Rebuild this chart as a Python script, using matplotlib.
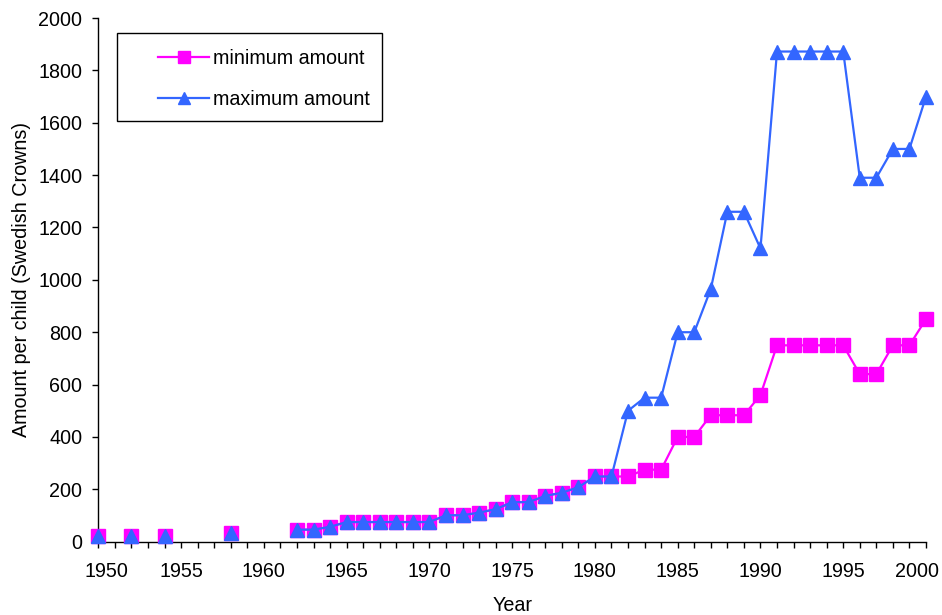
import numpy as np
import matplotlib
matplotlib.use("Agg")
import matplotlib.pyplot as plt
from matplotlib.ticker import MultipleLocator, FixedLocator
from matplotlib.transforms import ScaledTranslation
from matplotlib.patches import Rectangle

plt.rcParams['font.family'] = ['Liberation Sans', 'DejaVu Sans']

years = list(range(1950, 2001))
nan = np.nan
# minimum amount per child (SEK), NaN = no data
min_amount = [22, nan, 22, nan, 22, nan, nan, nan, 33, nan, nan, nan,
              46, 46, 57, 75, 75, 75, 75, 75, 75,
              101, 101, 111, 124, 151, 151, 175, 187, 208, 249,
              249, 249, 275, 275, 400, 400, 483, 483, 483, 560,
              750, 750, 750, 750, 750, 640, 640, 750, 750, 850]
max_amount = [22, nan, 22, nan, 22, nan, nan, nan, 33, nan, nan, nan,
              46, 46, 57, 75, 75, 75, 75, 75, 75,
              101, 101, 111, 124, 151, 151, 175, 187, 208, 249,
              249, 500, 550, 550, 800, 800, 965, 1260, 1260, 1120,
              1872, 1872, 1872, 1872, 1872, 1390, 1390, 1500, 1500, 1700]
x_ticks = [1950, 1955, 1960, 1965, 1970, 1975, 1980, 1985, 1990, 1995, 2000]

FS = 14.2
fig = plt.figure(figsize=(9.42, 6.15), dpi=100)
ax = fig.add_axes([0.1044, 0.1192, 0.8786, 0.8515])

ax.plot(years, min_amount, color='#FF00FF', lw=1.6, marker='s', ms=10,
        mec='#FF00FF', mfc='#FF00FF', label='minimum amount', clip_on=False, zorder=3)
ax.plot(years, max_amount, color='#3366FF', lw=1.6, marker='^', ms=10,
        mec='#3366FF', mfc='#3366FF', label='maximum amount', clip_on=False, zorder=4)

ax.set_xlim(1950, 2000)
ax.set_ylim(0, 2000)
ax.xaxis.set_major_locator(FixedLocator(x_ticks))
ax.set_xticklabels([str(t) for t in x_ticks])
ax.xaxis.set_minor_locator(MultipleLocator(1))
ax.yaxis.set_major_locator(MultipleLocator(200))
ax.tick_params(axis='both', which='both', direction='out', length=4.5, width=1,
               colors='black', labelsize=FS)
ax.tick_params(axis='x', which='major', pad=10)
ax.tick_params(axis='y', which='major', pad=7)
ax.spines['top'].set_visible(False)
ax.spines['right'].set_visible(False)
ax.spines['left'].set_linewidth(1)
ax.spines['bottom'].set_linewidth(1)

# Excel-style: keep end labels inside the chart area
labels = ax.get_xticklabels()
labels[0].set_transform(labels[0].get_transform() + ScaledTranslation(8/100, 0, fig.dpi_scale_trans))
labels[-1].set_transform(labels[-1].get_transform() + ScaledTranslation(-9/100, 0, fig.dpi_scale_trans))

ax.set_xlabel('Year', fontsize=FS, labelpad=11)
ax.set_ylabel('Amount per child (Swedish Crowns)', fontsize=FS, labelpad=5)

# legend box drawn explicitly (Excel-like asymmetric padding)
W, H = 942, 615
fig.patches.append(Rectangle((117/W, 1-121/H), (382-117)/W, (121-33)/H,
                             transform=fig.transFigure, fill=False,
                             edgecolor='black', lw=1, zorder=5))
leg = ax.legend(loc='upper left', bbox_to_anchor=(158/W, 1-49/H),
                bbox_transform=fig.transFigure, fontsize=FS, frameon=False,
                borderpad=0, borderaxespad=0,
                handlelength=2.6, labelspacing=1.1,
                handletextpad=0.2, markerscale=0.9)

fig.savefig('out.png', dpi=100)
